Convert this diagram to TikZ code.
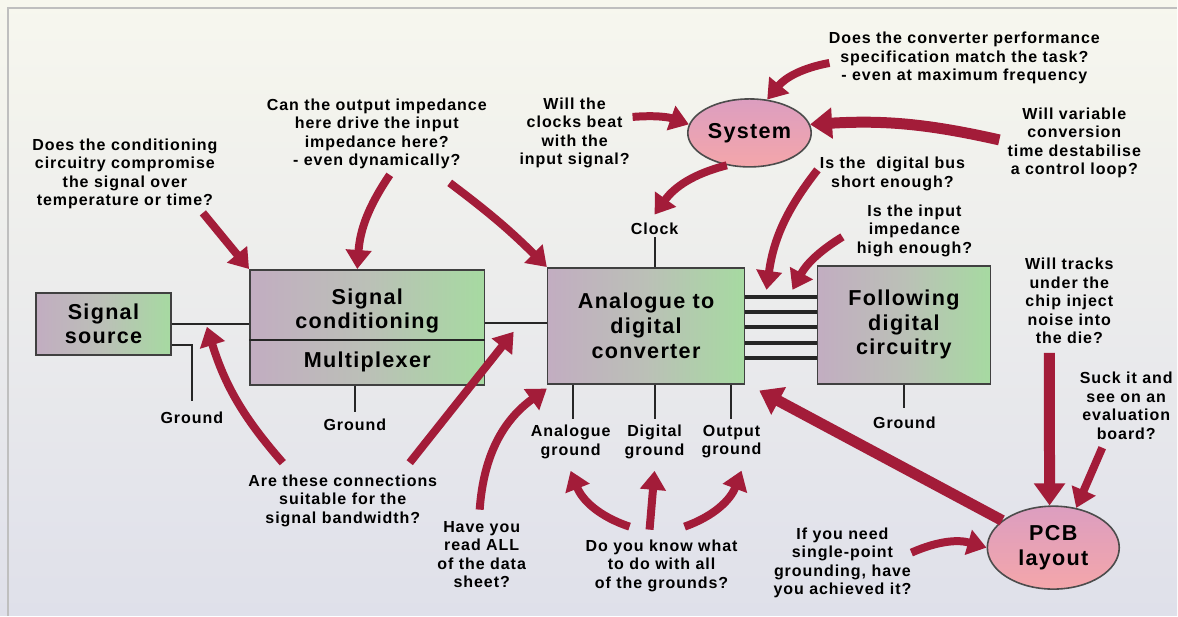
\documentclass[tikz,border=0pt]{standalone}
\usepackage{fontspec}
\setmainfont{Liberation Sans}[LetterSpace=6]
\usetikzlibrary{arrows.meta,positioning,shapes.geometric}
\definecolor{paper}{HTML}{F7F7EE}
\definecolor{haze}{HTML}{DFE0EA}
\definecolor{mauve}{HTML}{C2ADC1}
\definecolor{stone}{HTML}{BBC0B7}
\definecolor{sage}{HTML}{A6DAA1}
\definecolor{blush}{HTML}{F4A6AA}
\definecolor{plum}{HTML}{DC9EC0}
\definecolor{crimson}{HTML}{A31C39}

\begin{document}
\begin{tikzpicture}[x=0.5pt, y=-0.5pt,
  box/.style={draw=black!75, line width=0.8pt, left color=mauve, right color=sage,
    middle color=stone, align=center, inner sep=2pt,
    font=\bfseries\fontsize{10.8}{12.3}\selectfont},
  lbl/.style={align=center, inner sep=1pt, font=\bfseries\fontsize{10.8}{12.3}\selectfont},
  blob/.style={ellipse, draw=black!70, line width=0.8pt, top color=plum, bottom color=blush,
    align=center, inner sep=1pt, font=\bfseries\fontsize{10.8}{12.3}\selectfont},
  q/.style={align=center, inner sep=1pt, font=\bfseries\fontsize{8}{9.25}\selectfont},
  gnd/.style={q},
  wire/.style={line width=1pt, black!85},
  qarr/.style={crimson, line width=4pt, -{Triangle[length=9.5pt,width=12.5pt]}},
  fat/.style={qarr, line width=5.5pt, -{Triangle[length=11pt,width=15pt]}}]
  % paper and frame
  \fill[top color=paper, bottom color=haze] (0,0) rectangle (1178,616);
  \draw[black!25, line width=0.8pt] (8,616) -- (8,8) -- (1178,8);
  \useasboundingbox (0,0) rectangle (1178,616);

  % blocks
  \node[box, minimum width=67.5pt, minimum height=31pt] (src) at (103.5,324) {Signal\\source};
  \node[box, minimum width=117.5pt, minimum height=57.5pt] (cond) at (367.5,327.5) {};
  \node[lbl] (condtxt) at (367.5,311) {Signal\\conditioning};
  \node[lbl] (mux) at (367.5,362) {Multiplexer};
  \draw[wire] (cond.west |- 0,340) -- (cond.east |- 0,340);
  \node[box, minimum width=98.5pt, minimum height=58pt] (adc) at (646.5,326) {Analogue to\\digital\\converter};
  \node[box, minimum width=86.5pt, minimum height=59pt] (fdc) at (904.5,325) {Following\\digital\\circuitry};
  \node[blob, minimum width=58.5pt, minimum height=34pt] (sys) at (750,133) {System};
  \node[blob, minimum width=66pt, minimum height=41.5pt] (pcb) at (1054,548) {PCB\\layout};

  % pins and grounds
  \node[gnd] (g1) at (192,418) {Ground};
  \node[gnd] (g2) at (355,425) {Ground};
  \node[gnd] (clk) at (655,229) {Clock};
  \node[gnd] (ga) at (571,442) {Analogue\\ground};
  \node[gnd] (gd) at (655,442) {Digital\\ground};
  \node[gnd] (go) at (732,442) {Output\\ground};
  \node[gnd] (g3) at (905,423) {Ground};
  \draw[wire] (src) -- (src -| cond.west);
  \draw[wire] (cond.east |- 0,323) -- (adc.west |- 0,323);
  \draw[wire] ([yshift=-10.5pt]src.east) -| ([yshift=4pt]g1.north);
  \draw[wire] (cond.south -| g2) -- ([yshift=2pt]g2.north);
  \draw[wire] (clk.south) -- (adc.north -| clk);
  \draw[wire] (adc.south -| 573,0) -- ([yshift=2pt]ga.north -| 573,0);
  \draw[wire] (adc.south -| gd) -- ([yshift=2pt]gd.north);
  \draw[wire] (adc.south -| 731,0) -- ([yshift=2pt]go.north -| 731,0);
  \draw[wire] (fdc.south -| g3) -- ([yshift=3pt]g3.north);
  \foreach \y in {297,312,327,343,358}
    \draw[wire, line width=1.8pt] (adc.east |- 0,\y) -- (fdc.west |- 0,\y);

  % questions
  \node[q] (qcond) at (125,174) {Does the conditioning\\circuitry compromise\\the signal over\\temperature or time?};
  \node[q] (qimp) at (377,134) {Can the output impedance\\here drive the input\\impedance here?\\- even dynamically?};
  \node[q] (qclk) at (575,133) {Will the\\clocks beat\\with the\\input signal?};
  \node[q] (qspec) at (965,58) {Does the converter performance\\specification match the task?\\- even at maximum frequency};
  \node[q] (qvar) at (1075,143) {Will variable\\conversion\\time destabilise\\a control loop?};
  \node[q] (qbus) at (893,174) {Is the\ \ digital bus\\short enough?};
  \node[q] (qin) at (915,231) {Is the input\\impedance\\high enough?};
  \node[q] (qtrk) at (1070,301) {Will tracks\\under the\\chip inject\\noise into\\the die?};
  \node[q] (qsuck) at (1127,406) {Suck it and\\see on an\\evaluation\\board?};
  \node[q] (qsgl) at (843,563) {If you need\\single-point\\grounding, have\\you achieved it?};
  \node[q] (qbw) at (343,501) {Are these connections\\suitable for the\\signal bandwidth?};
  \node[q] (qdata) at (482,555) {Have you\\read ALL\\of the data\\sheet?};
  \node[q] (qgrd) at (662,566) {Do you know what\\to do with all\\of the grounds?};

  % arrow tails
  \coordinate (t1) at (203,213);
  \coordinate (t2) at (390,175);
  \coordinate (t3) at (450,183);
  \coordinate (t4) at (633,117);
  \coordinate (t6) at (830,63);
  \coordinate (t7) at (1000,140);
  \coordinate (t8) at (818,170);
  \coordinate (t9) at (843,237);
  \coordinate (t10) at (283,463);
  \coordinate (t11) at (410,463);
  \coordinate (t12) at (480,510);
  \coordinate (t13) at (630,527);
  \coordinate (t14) at (650,530);
  \coordinate (t15) at (685,527);
  \coordinate (t17) at (1050,353);
  \coordinate (t18) at (1103,448);
  \coordinate (t19) at (912,553);
  \coordinate (jct) at (207,327);
  \coordinate (jct2) at (514,332);
  \coordinate (bustop) at (781,290);

  % question arrows
  \draw[qarr] (t1) -- (cond.north west);
  \draw[qarr] (t2) to[bend right=15] ([xshift=-5pt]cond.north);
  \draw[qarr] (t3) to[bend left=4] (adc.north west);
  \draw[qarr] (t4) to[bend left=12] (sys.172);
  \draw[qarr] (sys.235) to[bend right=20] ([yshift=3pt]clk.north);
  \draw[qarr] (t6) to[bend right=20] (sys.62);
  \draw[fat] (t7) to[bend right=8] (sys.8);
  \draw[qarr] (t8) to[bend right=15] ([xshift=-7pt]bustop);
  \draw[qarr] (t9) to[bend right=15] ([xshift=6pt]bustop);
  \draw[qarr] (t10) to[bend left=12] (jct);
  \draw[qarr] (t11) -- (jct2);
  \draw[qarr] (t12) to[bend left=25] ([yshift=-2pt]adc.south west);
  \draw[qarr] (t13) to[bend left=25] ([yshift=-5pt]ga.south);
  \draw[qarr] (t14) -- ([yshift=-5pt]gd.south);
  \draw[qarr] (t15) to[bend right=25] ([shift={(5pt,-5pt)}]go.south);
  \draw[fat] (pcb.152) -- ([shift={(7pt,-3pt)}]adc.south east);
  \draw[fat] (t17) -- (pcb.95);
  \draw[qarr] (t18) -- (pcb.60);
  \draw[qarr] (t19) to[bend left=20] (pcb.west);
\end{tikzpicture}
\end{document}
